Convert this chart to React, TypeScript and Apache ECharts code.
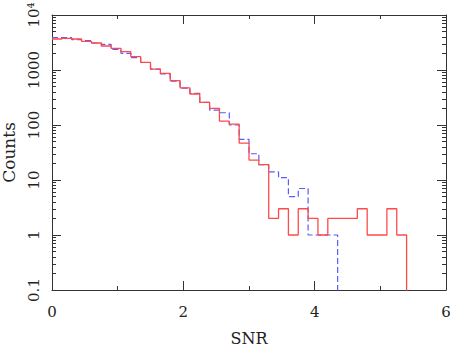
import React, { useEffect, useRef } from "react";
import * as echarts from "echarts";

// Histogram bins: width 0.15 in SNR, starting at 0
const binStart = 0;
const binWidth = 0.15;

// Red (solid) histogram counts per bin
const redCounts = [
  3660, 3770, 3660, 3325, 3100, 2730, 2480, 2150, 1745, 1380, 1040, 870, 640,
  475, 366, 258, 201, 118, 104, 47, 23, 19, 2, 3, 1, 3, 2, 1, 2, 2, 2, 3, 1, 1,
  3, 1,
];

// Blue (dashed) histogram counts per bin
const blueCounts = [
  3870, 3870, 3555, 3410, 3100, 2930, 2380, 2010, 1675, 1370, 1040, 850, 630,
  470, 377, 258, 187, 167, 100, 55, 30, 19, 14, 11, 5, 7, 1, 1, 1,
];

// Y tick values and their labels
const yMajor = [0.1, 1, 10, 100, 1000, 10000];
const yLabels = ["0.1", "1", "10", "100", "1000", "10⁴"];
const yMinor = (() => {
  const out: number[] = [];
  for (let d = 0; d < yMajor.length - 1; d++) {
    for (let m = 2; m <= 9; m++) out.push(+(yMajor[d] * m).toPrecision(3));
  }
  return out;
})();

const FLOOR = 1e-3; // empty bin beyond the last one (below the log axis minimum)

function stepData(counts: number[]) {
  const pts: [number, number][] = counts.map((c, i) => [
    +(binStart + i * binWidth).toFixed(4),
    c,
  ]);
  pts.push([+(binStart + counts.length * binWidth).toFixed(4), FLOOR]);
  return pts;
}

function yLabelFor(v: number) {
  let best = 0;
  for (let i = 1; i < yMajor.length; i++) {
    if (Math.abs(Math.log10(yMajor[i]) - Math.log10(v)) <
        Math.abs(Math.log10(yMajor[best]) - Math.log10(v))) best = i;
  }
  return yLabels[best];
}

const FONT = "DejaVu Serif";
const AXIS_COLOR = "#333";
const TEXT_COLOR = "#222";

export default function App() {
  const ref = useRef<HTMLDivElement>(null);
  useEffect(() => {
    if (!ref.current) return;
    const chart = echarts.init(ref.current, undefined, { renderer: "svg" });
    const baseY = {
      type: "log" as const,
      logBase: 10,
      min: 0.1,
      max: 10000,
      splitLine: { show: false },
      axisLabel: { show: false },
    };
    const xBase = {
      type: "value" as const,
      min: 0,
      max: 6,
      interval: 2,
      axisLine: { show: true, lineStyle: { color: AXIS_COLOR, width: 1 } },
      axisTick: {
        show: true,
        inside: true,
        length: 9,
        lineStyle: { color: AXIS_COLOR },
      },
      minorTick: {
        show: true,
        splitNumber: 2,
        length: 4,
        lineStyle: { color: AXIS_COLOR },
      },
      splitLine: { show: false },
    };
    chart.setOption({
      animation: false,
      backgroundColor: "#fff",
      grid: {
        left: 52,
        right: 4,
        top: 15,
        bottom: 59,
        containLabel: false,
        outerBoundsMode: "none",
      },
      xAxis: [
        {
          ...xBase,
          position: "bottom",
          name: "SNR",
          nameLocation: "middle",
          nameGap: 40,
          nameTextStyle: { fontFamily: FONT, fontSize: 16, color: TEXT_COLOR },
          axisLabel: {
            fontFamily: FONT,
            fontSize: 15,
            color: TEXT_COLOR,
            margin: 14,
          },
        },
        {
          ...xBase,
          position: "top",
          axisLabel: { show: false },
        },
      ],
      yAxis: [
        {
          ...baseY,
          position: "left",
          name: "Counts",
          nameLocation: "middle",
          nameRotate: 90,
          nameGap: 35,
          nameTextStyle: { fontFamily: FONT, fontSize: 17, color: TEXT_COLOR },
          axisLine: { show: true, lineStyle: { color: AXIS_COLOR, width: 1 } },
          axisTick: {
            show: true,
            inside: true,
            length: 9,
            lineStyle: { color: AXIS_COLOR },
          },
          axisLabel: {
            show: true,
            rotate: 90,
            margin: 11,
            fontFamily: FONT,
            fontSize: 15,
            color: TEXT_COLOR,
            formatter: (v: number) => yLabelFor(v),
          },
        },
        {
          ...baseY,
          position: "left",
          axisLine: { show: false },
          axisTick: {
            show: true,
            inside: true,
            length: 4,
            customValues: yMinor,
            lineStyle: { color: AXIS_COLOR },
          },
        },
        {
          ...baseY,
          position: "right",
          axisLine: { show: true, lineStyle: { color: AXIS_COLOR, width: 1 } },
          axisTick: {
            show: true,
            inside: true,
            length: 9,
            lineStyle: { color: AXIS_COLOR },
          },
        },
        {
          ...baseY,
          position: "right",
          axisLine: { show: false },
          axisTick: {
            show: true,
            inside: true,
            length: 4,
            customValues: yMinor,
            lineStyle: { color: AXIS_COLOR },
          },
        },
      ],
      series: [
        {
          type: "line",
          name: "blue",
          step: "end",
          xAxisIndex: 0,
          yAxisIndex: 0,
          data: stepData(blueCounts),
          showSymbol: false,
          symbol: "none",
          clip: true,
          lineStyle: { color: "#5a5aff", width: 1.2, type: [6, 3] },
          z: 2,
        },
        {
          type: "line",
          name: "red",
          step: "end",
          xAxisIndex: 0,
          yAxisIndex: 0,
          data: stepData(redCounts),
          showSymbol: false,
          symbol: "none",
          clip: true,
          lineStyle: { color: "#ff4a4a", width: 1.3 },
          z: 3,
        },
      ],
    });
    return () => chart.dispose();
  }, []);
  return (
    <div
      ref={ref}
      style={{ width: 450, height: 349, position: "absolute", left: 0, top: 0 }}
    />
  );
}
